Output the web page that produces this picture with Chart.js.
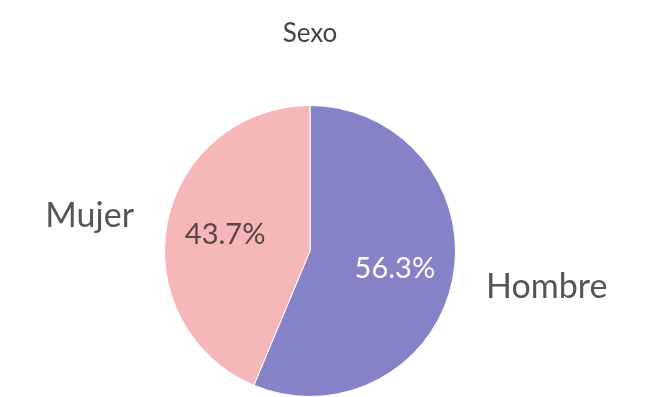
<!DOCTYPE html>
<html>
<head>
<meta charset="utf-8">
<script src="https://cdn.jsdelivr.net/npm/chart.js@4"></script>
<style>
  body { margin: 0; background: #fff; }
  canvas { display: block; }
</style>
</head>
<body>
<canvas id="sexoChart" width="660" height="397"></canvas>
<script>
// Data
const categories = ['Hombre', 'Mujer'];
const shares = [56.3, 43.7];
const sliceColors = ['#8682c8', '#f5b7b7'];
const pctColors = ['#ffffff', '#5a4444'];

// Draws the percentage inside each slice and the category name outside it
const sliceLabels = {
    id: 'sliceLabels',
    afterDatasetsDraw(chart) {
        const ctx = chart.ctx;
        const meta = chart.getDatasetMeta(0);
        const total = shares.reduce((a, b) => a + b, 0);
        meta.data.forEach((arc, i) => {
            const p = arc.getProps(['x', 'y', 'startAngle', 'endAngle', 'outerRadius'], true);
            const mid = (p.startAngle + p.endAngle) / 2;
            const cos = Math.cos(mid), sin = Math.sin(mid);

            ctx.save();
            ctx.textBaseline = 'alphabetic';

            const pr = p.outerRadius * 0.595;
            ctx.font = '29px Lato';
            ctx.fillStyle = pctColors[i];
            ctx.textAlign = 'center';
            ctx.fillText((shares[i] / total * 100).toFixed(1) + '%', p.x + cos * pr, p.y + sin * pr + 29 * 0.36);

            const lr = p.outerRadius + 34;
            ctx.font = '34px Lato';
            ctx.fillStyle = '#555555';
            ctx.textAlign = cos >= 0 ? 'left' : 'right';
            ctx.fillText(categories[i], p.x + cos * lr, p.y + sin * lr + 34 * 0.34);
            ctx.restore();
        });
    }
};

const sexoChart = new Chart(document.getElementById('sexoChart').getContext('2d'), {
    type: 'pie',
    data: {
        labels: categories,
        datasets: [{
            data: shares,
            backgroundColor: sliceColors,
            borderColor: '#ffffff',
            borderWidth: 1
        }]
    },
    options: {
        responsive: false,
        animation: false,
        layout: {
            padding: { top: 0, bottom: 0, left: 0, right: 40 }
        },
        plugins: {
            title: {
                display: true,
                text: 'Sexo',
                color: '#444444',
                font: { family: 'Lato', size: 26, weight: 'normal' },
                padding: { top: 18, bottom: 55.8 }
            },
            legend: { display: false },
            tooltip: { enabled: false }
        }
    },
    plugins: [sliceLabels]
});
</script>
</body>
</html>
